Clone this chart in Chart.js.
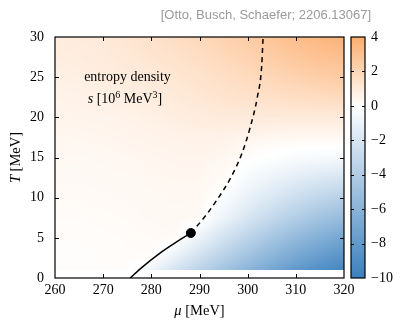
<!DOCTYPE html>
<html><head><meta charset="utf-8">
<script src="https://cdn.jsdelivr.net/npm/chart.js@4"></script>
<style>html,body{margin:0;padding:0;background:#fff}</style>
</head><body>
<canvas id="c" width="400" height="320"></canvas>
<script>
// ---- data ----
const muGrid = [260,265,270,275,280,285,290,295,300,305,310,315,320];   // MeV
const tGrid  = [1,2.5,5,7.5,10,12.5,15,17.5,20,22.5,25,27.5,30];       // MeV
// entropy density s [10^6 MeV^3]; one row per T value, one column per mu value
const sT01  = [0.08,0.08,0.10,0.12,-0.9,-2.2,-3.5,-4.7,-5.9,-7.0,-8.0,-8.8,-9.5];
const sT025 = [0.10,0.10,0.12,0.15,0.15,-1.2,-2.5,-3.7,-4.9,-6.0,-7.0,-7.9,-8.6];
const sT05  = [0.12,0.12,0.15,0.18,0.22,0.25,-1.0,-2.3,-3.4,-4.5,-5.5,-6.3,-7.0];
const sT075 = [0.18,0.18,0.20,0.22,0.28,0.32,0.25,-0.9,-2.0,-3.0,-3.9,-4.7,-5.3];
const sT10  = [0.22,0.22,0.25,0.28,0.32,0.36,0.35,-0.2,-1.1,-1.9,-2.6,-3.2,-3.7];
const sT125 = [0.28,0.28,0.30,0.33,0.38,0.42,0.42,0.20,-0.4,-0.9,-1.4,-1.8,-2.1];
const sT15  = [0.33,0.33,0.36,0.40,0.44,0.48,0.50,0.42,0.10,-0.1,-0.3,-0.4,-0.5];
const sT175 = [0.40,0.42,0.45,0.50,0.55,0.60,0.65,0.62,0.50,0.40,0.35,0.35,0.35];
const sT20  = [0.50,0.52,0.55,0.60,0.70,0.80,0.90,1.00,1.00,1.00,1.00,1.00,1.00];
const sT225 = [0.60,0.62,0.70,0.80,0.90,1.00,1.15,1.30,1.40,1.50,1.60,1.70,1.80];
const sT25  = [0.70,0.75,0.85,0.95,1.05,1.20,1.35,1.55,1.75,1.95,2.15,2.35,2.50];
const sT275 = [0.80,0.85,0.95,1.10,1.25,1.40,1.60,1.85,2.10,2.40,2.70,2.95,3.10];
const sT30  = [0.90,0.95,1.05,1.20,1.40,1.60,1.85,2.10,2.45,2.80,3.15,3.45,3.70];
const sGrid = [sT01,sT025,sT05,sT075,sT10,sT125,sT15,sT175,sT20,sT225,sT25,sT275,sT30];

// phase boundary: first-order line (solid), critical point, crossover (dashed)
const solidMu  = [275.6,278.0,281.8,285.0,288.2];
const solidT   = [0.0,1.3,3.1,4.4,5.6];
const dashedMu = [288.2,290.8,293.6,296.5,298.8,300.5,302.0,302.9,303.2];
const dashedT  = [5.6,7.4,9.7,12.5,15.5,18.7,22.5,26.3,30.0];
const critMu = [288.2];
const critT  = [5.6];

const xTicks  = [260,270,280,290,300,310,320];
const yTicks  = [0,5,10,15,20,25,30];
const cbTicks = [4,2,0,-2,-4,-6,-8,-10];
const cbMin = -10, cbMax = 4;

// ---- styles ----
const colHigh = [252,172,108], colZero = [255,255,255], colLow = [58,128,190];
const serif = '"Liberation Serif", "DejaVu Serif", serif';

function colorFor(v){
  let c, f;
  if (v >= 0){ f = Math.min(v/cbMax,1); c = colHigh; }
  else { f = Math.min(v/cbMin,1); c = colLow; }
  return [0,1,2].map(k => Math.round(colZero[k] + (c[k]-colZero[k])*f));
}
function findIdx(arr, v){
  for (let i=0;i<arr.length-1;i++) if (v <= arr[i+1]) return i;
  return arr.length-2;
}
function valueAt(mu, T){
  const i = findIdx(muGrid, mu), j = findIdx(tGrid, T);
  const fx = (mu-muGrid[i])/(muGrid[i+1]-muGrid[i]);
  const fy = (T-tGrid[j])/(tGrid[j+1]-tGrid[j]);
  const a = sGrid[j][i], b = sGrid[j][i+1], c = sGrid[j+1][i], d = sGrid[j+1][i+1];
  return a*(1-fx)*(1-fy) + b*fx*(1-fy) + c*(1-fx)*fy + d*fx*fy;
}

const heatmapPlugin = {
  id: 'heatmap',
  beforeDatasetsDraw(chart){
    const {ctx, chartArea:a, scales:{x, y}} = chart;
    const w = Math.round(a.right-a.left), h = Math.round(a.bottom-a.top);
    const off = document.createElement('canvas'); off.width = w; off.height = h;
    const octx = off.getContext('2d');
    const img = octx.createImageData(w, h);
    for (let py=0; py<h; py++){
      const T = y.getValueForPixel(a.top+py+0.5);
      if (T < tGrid[0] || T > tGrid[tGrid.length-1]) continue;
      for (let px=0; px<w; px++){
        const mu = x.getValueForPixel(a.left+px+0.5);
        if (mu < muGrid[0] || mu > muGrid[muGrid.length-1]) continue;
        const col = colorFor(valueAt(mu, T));
        const k = (py*w+px)*4;
        img.data[k]=col[0]; img.data[k+1]=col[1]; img.data[k+2]=col[2]; img.data[k+3]=255;
      }
    }
    octx.putImageData(img,0,0);
    ctx.drawImage(off, a.left, a.top);
  }
};

function drawRich(ctx, parts, x, y, align){
  let total = 0;
  parts.forEach(p => { ctx.font = p[1]; total += ctx.measureText(p[0]).width; });
  let cx = align === 'center' ? x - total/2 : x;
  ctx.textAlign = 'left';
  parts.forEach(p => { ctx.font = p[1]; ctx.fillText(p[0], cx, y + (p[2]||0)); cx += ctx.measureText(p[0]).width; });
}

const framePlugin = {
  id: 'frame',
  afterDraw(chart){
    const {ctx, chartArea:a, scales:{x, y, y2}} = chart;
    ctx.save();
    ctx.strokeStyle = '#000'; ctx.lineWidth = 1.2;
    ctx.strokeRect(a.left, a.top, a.right-a.left, a.bottom-a.top);
    ctx.lineWidth = 1;
    const tl = 4;
    ctx.beginPath();
    xTicks.slice(1,-1).forEach(t => {
      const px = Math.round(x.getPixelForValue(t))+0.5;
      ctx.moveTo(px, a.bottom); ctx.lineTo(px, a.bottom-tl);
      ctx.moveTo(px, a.top); ctx.lineTo(px, a.top+tl);
    });
    yTicks.slice(1,-1).forEach(t => {
      const py = Math.round(y.getPixelForValue(t))+0.5;
      ctx.moveTo(a.left, py); ctx.lineTo(a.left+tl, py);
      ctx.moveTo(a.right, py); ctx.lineTo(a.right-tl, py);
    });
    ctx.stroke();

    // colour bar
    const cbL = a.right + 7, cbR = a.right + 21;
    const top = y2.getPixelForValue(cbMax), bot = y2.getPixelForValue(cbMin);
    const g = ctx.createLinearGradient(0, top, 0, bot);
    [cbMax, 2, 0, -5, cbMin].forEach(v => {
      const c = colorFor(v);
      g.addColorStop((cbMax-v)/(cbMax-cbMin), `rgb(${c[0]},${c[1]},${c[2]})`);
    });
    ctx.fillStyle = g;
    ctx.fillRect(cbL, top, cbR-cbL, bot-top);
    ctx.lineWidth = 1.2;
    ctx.strokeRect(cbL, top, cbR-cbL, bot-top);
    ctx.lineWidth = 1;
    ctx.beginPath();
    cbTicks.slice(1,-1).forEach(t => {
      const py = Math.round(y2.getPixelForValue(t))+0.5;
      ctx.moveTo(cbL, py); ctx.lineTo(cbL+3, py);
      ctx.moveTo(cbR, py); ctx.lineTo(cbR-3, py);
    });
    ctx.stroke();

    // texts
    ctx.fillStyle = '#000';
    ctx.textBaseline = 'alphabetic';
    drawRich(ctx, [['entropy density', '14px '+serif]], 127.5, 81, 'center');
    drawRich(ctx, [
      ['s', 'italic 14px '+serif],
      [' [10', '14px '+serif],
      ['6', '10px '+serif, -5],
      [' MeV', '14px '+serif],
      ['3', '10px '+serif, -5],
      [']', '14px '+serif]
    ], 125, 103, 'center');

    drawRich(ctx, [['\u03BC', 'italic 14.5px '+serif], [' [MeV]', '14.5px '+serif]], (a.left+a.right)/2, 315, 'center');

    ctx.save();
    ctx.translate(19.5, (a.top+a.bottom)/2);
    ctx.rotate(-Math.PI/2);
    drawRich(ctx, [['T', 'italic 14.5px '+serif], [' [MeV]', '14.5px '+serif]], 0, 0, 'center');
    ctx.restore();

    ctx.fillStyle = '#9a9a9a';
    ctx.font = '13px "Liberation Sans", Arial, sans-serif';
    ctx.textAlign = 'right';
    ctx.fillText('[Otto, Busch, Schaefer; 2206.13067]', 371, 19);
    ctx.restore();
  }
};

const toPts = (xs, ys) => xs.map((v,i) => ({x:v, y:ys[i]}));
const tickFont = {family: serif, size: 14};

new Chart(document.getElementById('c'), {
  type: 'scatter',
  data: {
    datasets: [
      {data: toPts(solidMu, solidT), showLine: true, borderColor: '#000', borderWidth: 1.5, pointRadius: 0, cubicInterpolationMode: 'monotone', fill: false},
      {data: toPts(dashedMu, dashedT), showLine: true, borderColor: '#000', borderWidth: 1.5, borderDash: [5,4], pointRadius: 0, cubicInterpolationMode: 'monotone', fill: false},
      {data: toPts(critMu, critT), pointRadius: 4.5, pointBackgroundColor: '#000', pointBorderColor: '#000', showLine: false, clip: false}
    ]
  },
  options: {
    responsive: false, animation: false, devicePixelRatio: 1,
    layout: {padding: {top: 37, left: 0, right: 0, bottom: 0}},
    plugins: {legend: {display: false}, tooltip: {enabled: false}, title: {display: false}},
    scales: {
      x: {type: 'linear', position: 'bottom', min: 260, max: 320,
          afterBuildTicks: s => { s.ticks = xTicks.map(v => ({value: v})); },
          ticks: {font: tickFont, color: '#000', padding: 4, maxRotation: 0},
          grid: {display: false, drawTicks: false}, border: {display: false},
          afterFit: s => { s.height = 42; }},
      y: {type: 'linear', position: 'left', min: 0, max: 30,
          afterBuildTicks: s => { s.ticks = yTicks.map(v => ({value: v})); },
          ticks: {font: tickFont, color: '#000', padding: 11},
          grid: {display: false, drawTicks: false}, border: {display: false},
          afterFit: s => { s.width = 55; }},
      y2: {type: 'linear', position: 'right', min: cbMin, max: cbMax,
          afterBuildTicks: s => { s.ticks = cbTicks.map(v => ({value: v})); },
          ticks: {font: tickFont, color: '#000', padding: 27,
                  callback: v => v < 0 ? '\u2212' + Math.abs(v) : String(v)},
          grid: {display: false, drawTicks: false}, border: {display: false},
          afterFit: s => { s.width = 56; }}
    }
  },
  plugins: [heatmapPlugin, framePlugin]
});
</script>
</body></html>
